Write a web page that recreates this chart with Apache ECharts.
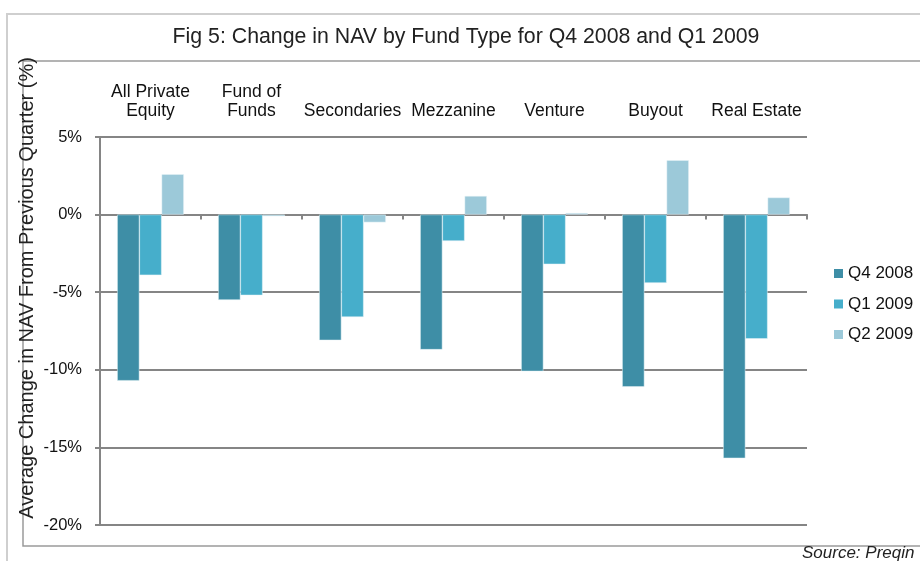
<!DOCTYPE html>
<html>
<head>
<meta charset="utf-8">
<title>Change in NAV by Fund Type</title>
<script src="https://cdn.jsdelivr.net/npm/echarts@6/dist/echarts.min.js"></script>
<style>
    html, body { margin: 0; padding: 0; background: #fff; }
    #chart { width: 920px; height: 561px; }
</style>
</head>
<body>
<div id="chart"></div>
<script>
// Fund types (top labels) and quarterly NAV change in %
const categories = ['All Private\nEquity', 'Fund of\nFunds', 'Secondaries', 'Mezzanine', 'Venture', 'Buyout', 'Real Estate'];
const q4_2008 = [-10.7, -5.5, -8.1, -8.7, -10.1, -11.1, -15.7];
const q1_2009 = [-3.9, -5.2, -6.6, -1.7, -3.2, -4.4, -8.0];
const q2_2009 = [2.6, -0.1, -0.5, 1.2, 0.1, 3.5, 1.1];
const yTicks = [5, 0, -5, -10, -15, -20];

const font = '"Liberation Sans", Arial, sans-serif';
const gridGray = '#858585';

const chart = echarts.init(document.getElementById('chart'));

const option = {
    animation: false,
    textStyle: { fontFamily: font },
    title: {
        text: 'Fig 5: Change in NAV by Fund Type for Q4 2008 and Q1 2009',
        left: 466,
        top: 27,
        padding: 0,
        textAlign: 'center',
        textStyle: { fontSize: 21.3, fontWeight: 'normal', color: '#222', fontFamily: font }
    },
    legend: {
        orient: 'vertical',
        left: 834,
        top: 265,
        padding: 0,
        itemWidth: 9,
        itemHeight: 9,
        itemGap: 13.5,
        icon: 'rect',
        itemStyle: { borderWidth: 0 },
        textStyle: { fontSize: 17, color: '#111', fontFamily: font, padding: [0, 0, 0, 0] },
        data: ['Q4 2008', 'Q1 2009', 'Q2 2009']
    },
    grid: { left: 100, right: 113, top: 137, bottom: 36 },
    xAxis: [
        {
            type: 'category',
            data: categories,
            position: 'bottom',
            axisLine: { onZero: true, lineStyle: { color: gridGray, width: 2 } },
            axisTick: { show: true, length: 5, lineStyle: { color: gridGray, width: 2 } },
            axisLabel: { show: false }
        },
        {
            type: 'category',
            data: categories,
            position: 'top',
            axisLine: { show: false },
            axisTick: { show: false },
            axisLabel: { interval: 0, fontSize: 17.5, color: '#111', margin: 16, lineHeight: 19, fontFamily: font }
        }
    ],
    yAxis: {
        type: 'value',
        min: -20,
        max: 5,
        interval: 5,
        axisLine: { show: true, lineStyle: { color: gridGray, width: 2 } },
        axisTick: { show: true, length: 5, lineStyle: { color: gridGray, width: 2 } },
        axisLabel: {
            fontSize: 16.5,
            color: '#111',
            margin: 18,
            formatter: v => yTicks.includes(v) ? v + '%' : ''
        },
        splitLine: { show: true, lineStyle: { color: gridGray, width: 2 } }
    },
    series: [
        {
            name: 'Q4 2008',
            type: 'bar',
            data: q4_2008,
            barGap: '0%',
            barCategoryGap: '34%',
            itemStyle: { color: '#3E8EA6', borderColor: '#e6f2f6', borderWidth: 0.5 }
        },
        {
            name: 'Q1 2009',
            type: 'bar',
            data: q1_2009,
            itemStyle: { color: '#46AECB', borderColor: '#e6f2f6', borderWidth: 0.5 }
        },
        {
            name: 'Q2 2009',
            type: 'bar',
            data: q2_2009,
            itemStyle: { color: '#9CC9D9', borderColor: '#e6f2f6', borderWidth: 0.5 }
        }
    ],
    graphic: [
        {
            type: 'rect',
            silent: true,
            z: -1,
            shape: { x: 7, y: 14, width: 1000, height: 1000 },
            style: { fill: null, stroke: '#cfcfcf', lineWidth: 2 }
        },
        {
            type: 'rect',
            silent: true,
            z: -1,
            shape: { x: 23, y: 61, width: 1000, height: 485 },
            style: { fill: null, stroke: '#9a9a9a', lineWidth: 1.5 }
        },
        {
            // y-axis title, sits off-centre like in the original
            type: 'text',
            x: 27,
            y: 288,
            rotation: Math.PI / 2,
            silent: true,
            style: {
                text: 'Average Change in NAV From Previous Quarter (%)',
                font: '20px ' + font,
                fill: '#222',
                align: 'center',
                verticalAlign: 'middle'
            }
        },
        {
            type: 'text',
            left: 802,
            top: 545,
            silent: true,
            style: { text: 'Source: Preqin', font: 'italic 17px ' + font, fill: '#222' }
        }
    ]
};

chart.setOption(option);
</script>
</body>
</html>
